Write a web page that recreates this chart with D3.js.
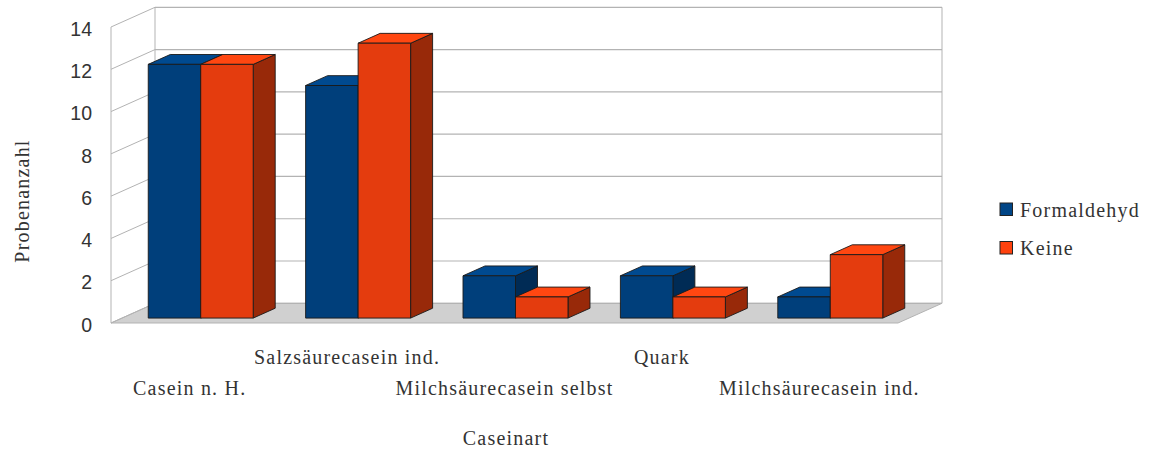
<!DOCTYPE html>
<html>
<head>
<meta charset="utf-8">
<script src="https://cdn.jsdelivr.net/npm/d3@7"></script>
<style>
  html, body { margin: 0; padding: 0; background: #fff; }
  svg { display: block; }
  .serif { font-family: "Liberation Serif", "Times New Roman", serif; fill: #333; letter-spacing: 1.2px; }
  .tick text { font-family: "Liberation Sans", Arial, sans-serif; fill: #333; }
</style>
</head>
<body>
<svg id="chart" width="1152" height="450"></svg>
<script>
// Probenanzahl je Caseinart, getrennt nach Konservierung
const categories = ["Casein n. H.", "Salzsäurecasein ind.", "Milchsäurecasein selbst", "Quark", "Milchsäurecasein ind."];
const seriesNames = ["Formaldehyd", "Keine"];
const formaldehyd = [12, 11, 2, 2, 1];
const keine = [12, 13, 1, 1, 3];
const yTicks = [0, 2, 4, 6, 8, 10, 12, 14];
const yTitle = "Probenanzahl";
const xTitle = "Caseinart";

const seriesValues = [formaldehyd, keine];
const faceColors = [
  { front: "#003f7b", top: "#004a90", side: "#002b55", legend: "#004586" },
  { front: "#e43c0e", top: "#ff4711", side: "#982909", legend: "#ff420e" }
];

const svg = d3.select("#chart");

// Front plane of the 3D box and its depth vector
const plot = { left: 111, right: 898, bottom: 323, top: 27 };
const depth = { dx: 44, dy: -19.7 };
const barFront = 0.25, barBack = 0.75;

const y = d3.scaleLinear().domain([0, 14]).range([plot.bottom, plot.top]);
const x = d3.scaleBand().domain(categories).range([plot.left, plot.right])
  .paddingInner(0.333).paddingOuter(0.1667);
const xSeries = d3.scaleBand().domain(seriesNames).range([0, x.bandwidth()]);

// Shift a front-plane point back by a fraction of the depth
const off = (p, f) => [p[0] + depth.dx * f, p[1] + depth.dy * f];
const poly = pts => pts.map(p => p.join(",")).join(" ");

const gridColor = "#b3b3b3";
const g = svg.append("g");

// Floor
const floorPts = [[plot.left, plot.bottom], [plot.right, plot.bottom],
  off([plot.right, plot.bottom], 1), off([plot.left, plot.bottom], 1)];
g.append("polygon").attr("points", poly(floorPts))
  .attr("fill", "#d0d0d0").attr("stroke", gridColor).attr("stroke-width", 1);

// Back wall gridlines and left wall lines
g.selectAll("line.back").data(yTicks).join("line")
  .attr("x1", plot.left + depth.dx).attr("x2", plot.right + depth.dx)
  .attr("y1", d => y(d) + depth.dy).attr("y2", d => y(d) + depth.dy)
  .attr("stroke", gridColor).attr("stroke-width", 1.2);
g.selectAll("line.side").data(yTicks).join("line")
  .attr("x1", plot.left).attr("y1", d => y(d))
  .attr("x2", plot.left + depth.dx).attr("y2", d => y(d) + depth.dy)
  .attr("stroke", gridColor).attr("stroke-width", 1);
// Wall edges
g.append("line").attr("x1", plot.left).attr("x2", plot.left)
  .attr("y1", y(0)).attr("y2", y(14)).attr("stroke", gridColor);
g.append("line").attr("x1", plot.left + depth.dx).attr("x2", plot.left + depth.dx)
  .attr("y1", y(0) + depth.dy).attr("y2", y(14) + depth.dy).attr("stroke", gridColor);
g.append("line").attr("x1", plot.right + depth.dx).attr("x2", plot.right + depth.dx)
  .attr("y1", y(0) + depth.dy).attr("y2", y(14) + depth.dy).attr("stroke", gridColor);

// Bars
const bd = barBack - barFront;
categories.forEach((cat, ci) => {
  seriesNames.forEach((s, si) => {
    const v = seriesValues[si][ci];
    const c = faceColors[si];
    const x0 = x(cat) + xSeries(s) + depth.dx * barFront;
    const x1 = x0 + xSeries.bandwidth();
    const yt = y(v) + depth.dy * barFront;
    const yb = y(0) + depth.dy * barFront;
    const bx = depth.dx * bd, by = depth.dy * bd;
    const bar = g.append("g").attr("stroke", "#1a1a1a").attr("stroke-width", 0.9).attr("stroke-linejoin", "round");
    bar.append("polygon").attr("fill", c.side)
      .attr("points", poly([[x1, yt], [x1 + bx, yt + by], [x1 + bx, yb + by], [x1, yb]]));
    bar.append("polygon").attr("fill", c.top)
      .attr("points", poly([[x0, yt], [x1, yt], [x1 + bx, yt + by], [x0 + bx, yt + by]]));
    bar.append("rect").attr("fill", c.front)
      .attr("x", x0).attr("y", yt).attr("width", x1 - x0).attr("height", yb - yt);
  });
});

// Y axis labels
const yAxis = d3.axisLeft(y).tickValues(yTicks).tickSize(0).tickPadding(0);
const ax = svg.append("g").attr("transform", `translate(92,2)`).call(yAxis);
ax.select(".domain").remove();
ax.selectAll(".tick text").attr("font-size", 19.5);

// Category labels, staggered in two rows
svg.append("g").selectAll("text").data(categories).join("text")
  .attr("class", "serif")
  .attr("x", d => x(d) + x.bandwidth() / 2)
  .attr("y", (d, i) => i % 2 === 0 ? 395 : 364)
  .attr("text-anchor", "middle").attr("font-size", 20)
  .text(d => d);

// Axis titles
svg.append("text").attr("class", "serif")
  .attr("x", 506).attr("y", 445).attr("text-anchor", "middle").attr("font-size", 20)
  .text(xTitle);
svg.append("text").attr("class", "serif")
  .attr("transform", "translate(29,201) rotate(-90)")
  .attr("text-anchor", "middle").attr("font-size", 20)
  .text(yTitle);

// Legend
const legend = svg.append("g").attr("transform", "translate(1000,203)");
const li = legend.selectAll("g").data(seriesNames).join("g")
  .attr("transform", (d, i) => `translate(0,${i * 38.5})`);
li.append("rect").attr("width", 12.5).attr("height", 12.5)
  .attr("fill", (d, i) => faceColors[i].legend)
  .attr("stroke", "#222").attr("stroke-width", 1);
li.append("text").attr("class", "serif").attr("x", 20).attr("y", 13.5)
  .attr("font-size", 20).text(d => d);
</script>
</body>
</html>
